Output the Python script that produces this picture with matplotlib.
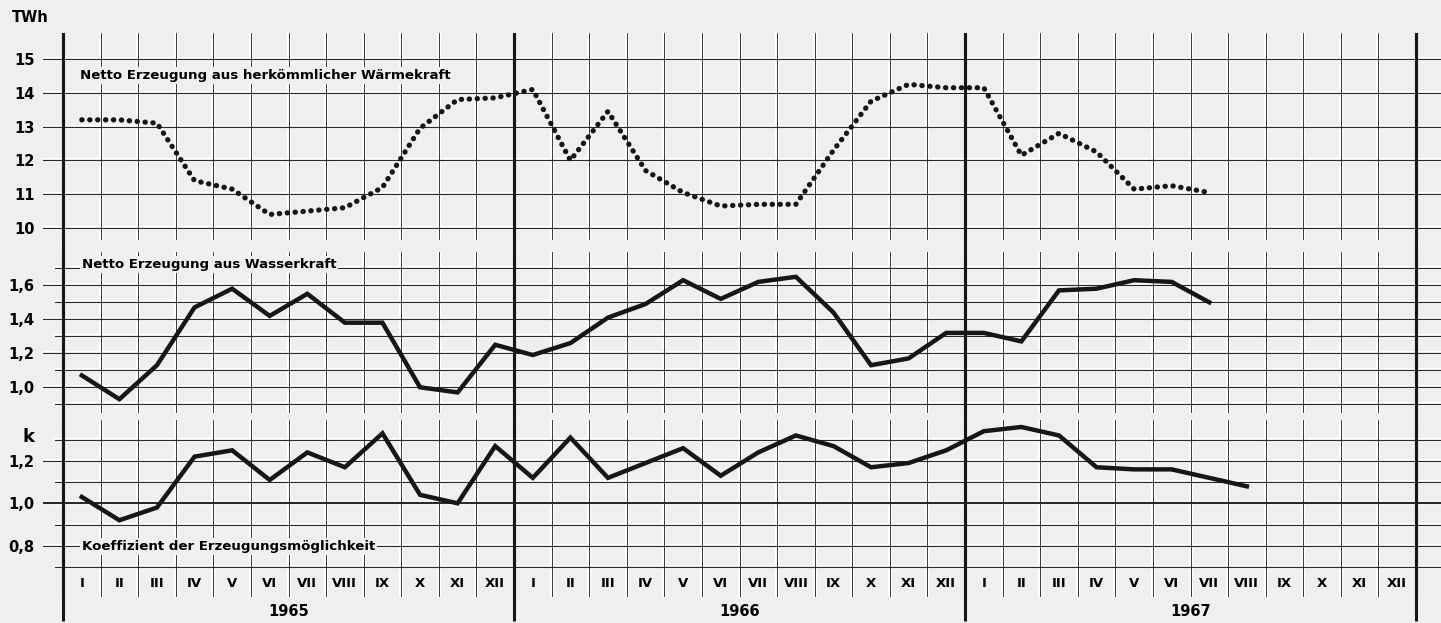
"""Netto Erzeugung 1965-1967: Wärmekraft, Wasserkraft und Erzeugungskoeffizient."""

import matplotlib.pyplot as plt
import numpy as np

W, H = 1441, 623
BG = "#efefef"
INK = "#161616"
GRID = "#2a2a2a"

months = ["I", "II", "III", "IV", "V", "VI", "VII", "VIII", "IX", "X", "XI", "XII"]
years = ["1965", "1966", "1967"]

# monthly values, starting January 1965
waerme = [13.2, 13.2, 13.1, 11.4, 11.15, 10.4, 10.5, 10.6, 11.2, 12.95, 13.8, 13.85,
          14.1, 12.0, 13.45, 11.7, 11.05, 10.65, 10.7, 10.7, 12.3, 13.75, 14.25, 14.15,
          14.15, 12.15, 12.8, 12.25, 11.15, 11.25, 11.05]
wasser = [1.07, 0.93, 1.13, 1.47, 1.58, 1.42, 1.55, 1.38, 1.38, 1.00, 0.97, 1.25,
          1.19, 1.26, 1.41, 1.49, 1.63, 1.52, 1.62, 1.65, 1.44, 1.13, 1.17, 1.32,
          1.32, 1.27, 1.57, 1.58, 1.63, 1.62, 1.50]
koeff = [1.03, 0.92, 0.98, 1.22, 1.25, 1.11, 1.24, 1.17, 1.33, 1.04, 1.00, 1.27,
         1.12, 1.31, 1.12, 1.19, 1.26, 1.13, 1.24, 1.32, 1.27, 1.17, 1.19, 1.25,
         1.34, 1.36, 1.32, 1.17, 1.16, 1.16, 1.12, 1.08]

n_months = 12 * len(years)
x_left_px, x0_px, x36_px = 43, 63, 1416
px_per_month = (x36_px - x0_px) / n_months
xlim = (-(x0_px - x_left_px) / px_per_month, n_months + (W - x36_px) / px_per_month)

fig = plt.figure(figsize=(W / 100, H / 100), dpi=100, facecolor=BG)


def panel(top_px, bottom_px, ylim, zorder=2):
    ax = fig.add_axes([x_left_px / W, 1 - bottom_px / H, (W - x_left_px) / W,
                       (bottom_px - top_px) / H], zorder=zorder)
    ax.set_facecolor("none")
    ax.set_xlim(*xlim)
    ax.set_ylim(*ylim)
    for s in ax.spines.values():
        s.set_visible(False)
    ax.set_xticks([])
    ax.tick_params(axis="y", length=0, pad=6, labelsize=10.5)
    return ax


def grid(ax, major, minor=(), thick=()):
    x_frac = (x0_px - x_left_px) / (W - x_left_px)
    for v in list(major) + list(minor):
        start = 0 if v in major else x_frac * 0.6
        lw = 1.5 if v in thick else 0.85
        ax.axhline(v, xmin=start, color="white", lw=3.0, zorder=1)
        ax.axhline(v, xmin=start, color=GRID, lw=lw, zorder=2)
    for m in range(n_months + 1):
        if m % 12 == 0:
            ax.axvline(m, color=INK, lw=2.2, zorder=3)
        else:
            ax.axvline(m, color="white", lw=3.0, zorder=1)
            ax.axvline(m, color=GRID, lw=0.65, zorder=2)


# background axes in pixel units, same x scale as the panels
bg = fig.add_axes([x_left_px / W, 0, (W - x_left_px) / W, 1], zorder=0)
bg.set_facecolor(BG)
bg.set_xlim(*xlim)
bg.set_ylim(H, 0)
bg.axis("off")
bg.vlines(np.arange(0, n_months + 1, 12), 33, 621, color=INK, lw=2.2)
for i, yr in enumerate(years):
    bg.text(12 * i + 6, 612, yr, ha="center", va="center", fontsize=10.5, fontweight="bold")

label_kw = dict(fontsize=9.6, fontweight="bold", ha="left", va="center", zorder=6,
                bbox=dict(boxstyle="square,pad=0.15", facecolor=BG, edgecolor="none"))

# top panel: Wärmekraft (TWh)
ax1 = panel(33, 240, (15 - (240 - 59) / 33.8, 15 + (59 - 33) / 33.8))
grid(ax1, major=[10, 11, 12, 13, 14, 15])
ax1.set_yticks([10, 11, 12, 13, 14, 15])
ax1.set_yticklabels(["10", "11", "12", "13", "14", "15"], fontweight="bold")
xm = np.arange(len(waerme)) + 0.5
ax1.plot(xm, waerme, color=INK, lw=3.8, linestyle=(0, (0.05, 1.45)),
         dash_capstyle="round", zorder=5)
ax1.text(0.45, 14.52, "Netto Erzeugung aus herkömmlicher Wärmekraft", **label_kw)

# middle panel: Wasserkraft
ax2 = panel(252, 413, (1.0 - (413 - 387.3) / 170, 1.0 + (387.3 - 252) / 170))
grid(ax2, major=[1.0, 1.2, 1.4, 1.6], minor=[0.9, 1.1, 1.3, 1.5, 1.7])
ax2.set_yticks([1.0, 1.2, 1.4, 1.6])
ax2.set_yticklabels(["1,0", "1,2", "1,4", "1,6"], fontweight="bold")
xm = np.arange(len(wasser)) + 0.5
ax2.plot(xm, wasser, color=INK, lw=3.2, solid_joinstyle="miter", zorder=5)
ax2.text(0.5, 1.725, "Netto Erzeugung aus Wasserkraft", **label_kw)

# bottom panel: Koeffizient k
ax3 = panel(420, 597, (1.0 - (597 - 503.3) / 212, 1.0 + (503.3 - 420) / 212))
grid(ax3, major=[0.8, 1.0, 1.2], minor=[0.7, 0.9, 1.1, 1.3], thick=[1.0])
ax3.set_yticks([0.8, 1.0, 1.2])
ax3.set_yticklabels(["0,8", "1,0", "1,2"], fontweight="bold")
xm = np.arange(len(koeff)) + 0.5
ax3.plot(xm, koeff, color=INK, lw=3.2, solid_joinstyle="miter", zorder=5)
ax3.text(0.5, 0.795, "Koeffizient der Erzeugungsmöglichkeit", **label_kw)
for i in range(n_months):
    ax3.text(i + 0.5, 0.624, months[i % 12], ha="center", va="center",
             fontsize=9.5, fontweight="bold", zorder=6,
             bbox=dict(boxstyle="square,pad=0.1", facecolor=BG, edgecolor="none"))

fig.text(12 / W, 1 - 17 / H, "TWh", fontsize=10.5, fontweight="bold", ha="left", va="center")
fig.text(29 / W, 1 - 437 / H, "k", fontsize=13, fontweight="bold", ha="center", va="center")

fig.savefig("out.png", dpi=100, facecolor=BG)
